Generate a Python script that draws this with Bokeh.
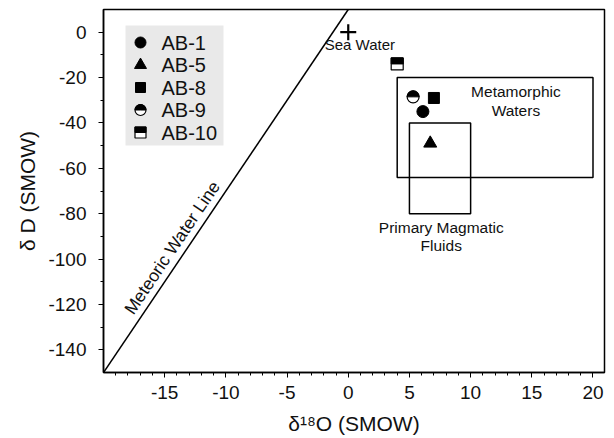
import math
from bokeh.plotting import figure
from bokeh.models import Range1d, FixedTicker, Label
from bokeh.core.properties import value
from bokeh.embed import file_html
from bokeh.resources import INLINE

# ---------------- data ----------------
samples = ["AB-1", "AB-5", "AB-8", "AB-9", "AB-10"]
sample_markers = ["circle", "triangle", "square", "half_circle", "half_square"]
d18o = [6.1, 6.7, 7.0, 5.3, 4.0]
dD = [-35.0, -49.0, -29.0, -28.5, -14.0]

sea_water_d18o = [0.0]
sea_water_dD = [0.0]

mwl_d18o = [-20.0, 0.0]
mwl_dD = [-150.0, 10.0]

field_names = ["Metamorphic\nWaters", "Primary Magmatic\nFluids"]
field_left = [4.0, 5.0]
field_right = [20.0, 10.0]
field_top = [-20.0, -40.0]
field_bottom = [-64.0, -80.0]

x_tick_values = [-15, -10, -5, 0, 5, 10, 15, 20]
x_tick_labels = ["-15", "-10", "-5", "0", "5", "10", "15", "20"]
y_tick_values = [0, -20, -40, -60, -80, -100, -120, -140]
y_tick_labels = ["0", "-20", "-40", "-60", "-80", "-100", "-120", "-140"]

# ---------------- layout ----------------
FONT = "Liberation Sans"
XR = (-20.0, 20.94)
YR = (-150.0, 10.0)
FW, FH = 501, 363

p = figure(frame_width=FW, frame_height=FH,
           x_range=Range1d(*XR), y_range=Range1d(*YR),
           output_backend="svg", toolbar_location=None,
           min_border_left=103, min_border_right=4, min_border_top=9, min_border_bottom=20,
           x_axis_label="δ¹⁸O (SMOW)", y_axis_label="δ D (SMOW)")
p.extra_x_ranges = {"lx": Range1d(0, FW)}
p.extra_y_ranges = {"ly": Range1d(FH, 0)}

p.xgrid.visible = False
p.ygrid.visible = False
p.outline_line_color = "black"
p.outline_line_width = 1.5
p.outline_line_alpha = 1.0
p.background_fill_color = "white"
p.border_fill_color = "white"

for ax in (p.xaxis, p.yaxis):
    ax.axis_line_color = "black"
    ax.axis_line_width = 1.5
    ax.major_tick_line_color = "black"
    ax.minor_tick_line_color = "black"
    ax.major_tick_out = 5
    ax.major_tick_in = 0
    ax.minor_tick_out = 3
    ax.minor_tick_in = 0
    ax.major_label_text_font = FONT
    ax.major_label_text_font_size = "19px"
    ax.major_label_text_color = "#111111"
    ax.axis_label_text_font = FONT
    ax.axis_label_text_font_size = "21px"
    ax.axis_label_text_font_style = "normal"
    ax.axis_label_text_color = "#111111"

p.xaxis.ticker = FixedTicker(ticks=x_tick_values, minor_ticks=list(range(-19, 21)))
p.yaxis.ticker = FixedTicker(ticks=y_tick_values, minor_ticks=list(range(-130, 10, 20)))
p.xaxis.major_label_overrides = dict(zip(x_tick_values, x_tick_labels))
p.yaxis.major_label_overrides = dict(zip(y_tick_values, y_tick_labels))
p.xaxis.major_label_standoff = 8
p.yaxis.major_label_standoff = 12
p.xaxis.axis_label_standoff = 10
p.yaxis.axis_label_standoff = 6

# ---------------- fields ----------------
p.quad(left=field_left, right=field_right, top=field_top, bottom=field_bottom,
       fill_alpha=0, line_color="black", line_width=1.5)

# meteoric water line
p.line(mwl_d18o, mwl_dD, line_color="black", line_width=1.5)

# sea water
p.scatter(sea_water_d18o, sea_water_dD, marker="cross", size=16,
          line_color="black", line_width=2.2)

UPP = (YR[1] - YR[0]) / FH  # data units per screen pixel (y)


def draw_marker(kind, xs, ys, size, up, **rk):
    if kind in ("circle", "triangle", "square"):
        p.scatter(xs, ys, marker=kind, size=size, fill_color="black",
                  line_color="black", **rk)
    elif kind == "half_circle":
        p.scatter(xs, ys, marker="circle", size=size, fill_color="white",
                  line_color="black", line_width=1.2, **rk)
        p.wedge(xs, ys, radius=size / 2, radius_units="screen",
                start_angle=0, end_angle=math.pi,
                fill_color="black", line_color="black", line_width=1, **rk)
    elif kind == "half_square":
        p.scatter(xs, ys, marker="square", size=size, fill_color="white",
                  line_color="black", line_width=1.2, **rk)
        p.rect(xs, [y + size / 4 * up for y in ys], width=size, height=size / 2,
               width_units="screen", height_units="screen",
               fill_color="black", line_color="black", **rk)


main_sizes = {"circle": 12, "triangle": 13, "square": 11, "half_circle": 12, "half_square": 12}
for name, kind, x, y in zip(samples, sample_markers, d18o, dD):
    draw_marker(kind, [x], [y], main_sizes[kind], UPP)

# ---------------- annotations ----------------
p.add_layout(Label(x=0.95, y=-5.6, text="Sea Water", text_align="center",
                   text_baseline="middle", text_font=FONT, text_font_size="15px",
                   text_color="#111111"))
p.add_layout(Label(x=13.7, y=-30.2, text=field_names[0], text_align="center",
                   text_baseline="middle", text_font=FONT, text_font_size="15.5px",
                   text_line_height=1.1, text_color="#111111"))
p.add_layout(Label(x=7.6, y=-90.0, text=field_names[1], text_align="center",
                   text_baseline="middle", text_font=FONT, text_font_size="15.5px",
                   text_line_height=1.1, text_color="#111111"))

slope_px = ((mwl_dD[1] - mwl_dD[0]) / (YR[1] - YR[0]) * FH) / \
           ((mwl_d18o[1] - mwl_d18o[0]) / (XR[1] - XR[0]) * FW)
p.add_layout(Label(x=-14.4, y=-95.0, text="Meteoric Water Line", angle=math.atan(slope_px),
                   text_align="center", text_baseline="middle", text_font=FONT,
                   text_font_size="17.5px", text_color="#111111"))

# ---------------- legend (hand-built, in pixel-like range) ----------------
rk = dict(x_range_name="lx", y_range_name="ly")
p.quad(left=[22], right=[120], top=[16], bottom=[136], fill_color="#e9e9e9",
       line_color=None, **rk)
leg_rows = [33 + 22.5 * i for i in range(len(samples))]
leg_sizes = {"circle": 11, "triangle": 12, "square": 10, "half_circle": 11, "half_square": 11}
for kind, ly in zip(sample_markers, leg_rows):
    draw_marker(kind, [37], [ly], leg_sizes[kind], -1, **rk)
p.text(x=[58] * len(samples), y=leg_rows, text=samples, text_font=value(FONT),
       text_font_size="20px", text_baseline="middle", text_align="left",
       text_color="#111111", **rk)

open("out.html", "w").write(file_html(p, INLINE))
